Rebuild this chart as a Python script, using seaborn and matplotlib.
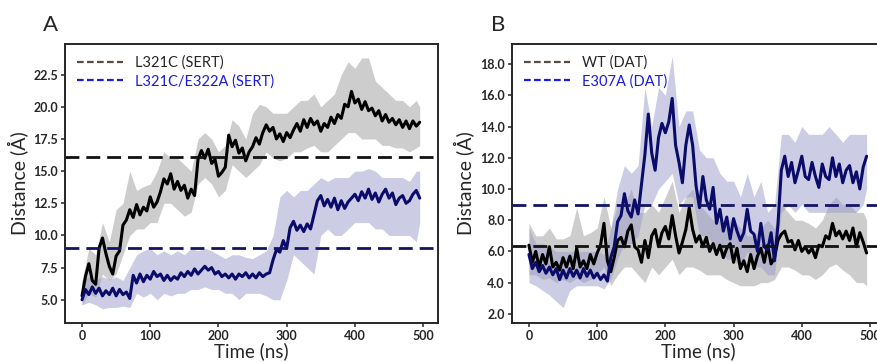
import numpy as np
import matplotlib
matplotlib.use("Agg")
import matplotlib.pyplot as plt
import seaborn as sns
from matplotlib.lines import Line2D

# time grids (ns)
t = np.arange(0, 500, 5)
t_band = np.r_[np.arange(0, 500, 10), 495]

# ---- panel A (SERT) ----
sert_l321c = [5.3, 6.8, 7.8, 6.5, 6.2, 9.0, 9.8, 8.6, 7.6, 7.0,
              8.4, 8.8, 10.8, 11.2, 12.0, 11.4, 12.4, 11.6, 12.2, 11.9,
              13.0, 12.2, 12.6, 13.4, 14.4, 14.0, 14.8, 13.6, 14.2, 13.5,
              13.9, 12.9, 13.6, 13.1, 15.9, 16.6, 16.0, 16.7, 15.6, 15.9,
              14.6, 14.9, 15.3, 17.8, 16.9, 17.4, 16.4, 16.8, 15.8, 16.5,
              16.9, 17.6, 17.1, 18.0, 18.6, 18.1, 18.4, 17.5, 17.9, 17.3,
              18.0, 17.6, 18.2, 18.7, 18.1, 19.0, 18.4, 19.1, 18.6, 18.9,
              18.1, 18.7, 18.4, 19.2, 18.7, 19.4, 19.1, 20.2, 20.0, 21.2,
              20.3, 20.6, 19.8, 20.4, 19.7, 19.9, 19.3, 19.7, 18.9, 19.4,
              18.8, 19.1, 18.6, 19.0, 18.4, 18.9, 18.3, 18.9, 18.5, 18.8]
sert_l321c_lo = [4.6, 5.5, 5.2, 7.0, 6.5, 7.0, 8.5, 10.0, 10.5, 10.5,
                 11.0, 11.0, 12.5, 12.5, 12.0, 11.5, 11.8, 14.0, 14.5, 14.0,
                 13.0, 13.5, 15.5, 15.0, 14.5, 15.0, 15.5, 16.5, 16.0, 15.8,
                 16.0, 16.5, 16.5, 16.8, 17.0, 16.5, 16.5, 17.0, 17.5, 18.0,
                 18.0, 17.5, 17.5, 17.5, 17.0, 17.0, 16.8, 16.8, 16.5, 16.8, 17.0]
sert_l321c_hi = [6.5, 9.0, 8.5, 11.0, 9.5, 12.0, 12.5, 15.0, 13.5, 13.8,
                 14.0, 15.0, 16.5, 16.0, 16.0, 15.5, 15.0, 17.5, 18.0, 17.5,
                 16.5, 17.0, 19.0, 18.5, 17.5, 19.5, 20.2, 20.0, 19.5, 19.5,
                 19.5, 20.0, 20.5, 20.5, 21.0, 20.0, 20.5, 21.0, 22.5, 23.5,
                 23.0, 23.8, 23.8, 22.0, 21.5, 21.0, 20.5, 20.5, 20.0, 20.5, 20.0]

sert_e322a = [5.0, 5.8, 5.4, 6.0, 5.5, 5.9, 5.3, 5.7, 5.4, 5.9,
              5.3, 5.8, 5.4, 5.6, 5.1, 6.9, 6.3, 7.0, 6.4, 6.9,
              6.6, 7.2, 6.8, 7.0, 6.5, 6.9, 6.5, 6.8, 6.6, 7.1,
              6.8, 7.2, 6.9, 7.4, 7.0, 7.3, 7.6, 7.3, 7.5, 7.0,
              7.2, 6.8, 7.0, 6.7, 7.0, 6.6, 7.0, 6.8, 7.1, 6.7,
              7.0, 6.7, 7.1, 6.8, 7.0, 7.1, 8.1, 8.9, 8.7, 9.6,
              9.0, 10.6, 11.1, 10.4, 10.8, 10.3, 10.9, 10.5, 11.6, 12.7,
              13.1, 12.3, 12.8, 12.2, 12.9, 12.0, 12.7, 12.1, 12.6, 12.9,
              13.2, 12.7, 13.4, 12.9, 13.6, 12.8, 13.3, 12.6, 13.2, 13.6,
              12.9, 13.3, 12.4, 12.9, 13.1, 12.5, 12.7, 13.2, 13.5, 12.9]
sert_e322a_lo = [4.6, 4.8, 4.6, 4.3, 4.4, 4.4, 4.5, 4.4, 5.5, 5.2,
                 5.5, 5.0, 5.5, 5.3, 5.5, 5.5, 5.8, 5.8, 6.0, 5.8,
                 5.8, 5.5, 5.5, 5.0, 5.5, 5.5, 5.5, 5.3, 5.0, 5.0,
                 6.5, 8.5, 8.0, 7.5, 7.0, 10.0, 10.5, 10.0, 10.0, 10.5,
                 11.0, 11.0, 11.0, 10.5, 10.5, 10.0, 10.0, 10.0, 10.0, 9.5, 11.0]
sert_e322a_hi = [6.5, 6.8, 6.5, 6.8, 6.6, 6.8, 6.5, 7.5, 8.5, 8.8,
                 9.0, 8.5, 8.8, 8.5, 8.8, 8.5, 9.0, 8.8, 9.0, 8.8,
                 8.5, 8.2, 8.5, 8.5, 8.3, 8.2, 8.5, 8.8, 10.0, 13.0,
                 13.5, 13.0, 13.5, 13.5, 14.0, 14.5, 14.2, 14.5, 14.5, 14.5,
                 15.0, 15.0, 15.2, 15.0, 14.5, 14.5, 14.5, 14.5, 14.2, 15.0, 15.0]
sert_ref = [16.1, 9.05]

# ---- panel B (DAT) ----
dat_wt = [6.4, 5.3, 6.0, 5.0, 5.8, 5.2, 6.3, 5.0, 5.3, 4.8,
          5.6, 5.0, 5.7, 4.9, 6.2, 5.0, 5.4, 4.9, 5.8, 5.2,
          5.9, 6.4, 7.8, 5.4, 4.7, 5.6, 6.7, 6.9, 6.3, 7.3,
          7.7, 6.3, 6.1, 5.3, 6.7, 5.6, 7.0, 7.4, 6.3, 7.2,
          7.6, 6.8, 8.3, 7.0, 5.9, 6.6, 7.4, 8.8, 7.4, 6.6,
          7.0, 6.3, 6.9, 6.0, 6.5, 5.8, 6.4, 5.6, 6.2, 6.5,
          5.3, 6.2, 4.9, 5.4, 4.7, 5.8, 4.9, 5.7, 6.2, 5.3,
          6.4, 5.2, 5.6, 6.7, 7.1, 7.3, 6.6, 6.7, 6.1, 6.7,
          6.0, 6.3, 5.9, 6.2, 5.6, 6.4, 6.3, 7.0, 6.8, 7.8,
          7.0, 7.3, 6.8, 7.3, 6.7, 7.5, 6.3, 7.2, 6.6, 5.9]
dat_wt_lo = [4.5, 4.5, 4.2, 4.3, 4.0, 4.2, 4.0, 4.3, 4.0, 4.2,
             4.5, 5.0, 3.8, 4.5, 5.0, 5.0, 4.5, 4.0, 5.0, 4.5,
             5.0, 5.5, 4.5, 5.0, 5.0, 4.8, 4.5, 4.5, 4.5, 4.2,
             4.0, 3.8, 3.8, 3.8, 4.0, 4.0, 4.2, 5.0, 5.0, 4.8,
             4.5, 4.5, 4.2, 4.5, 5.0, 5.2, 4.8, 4.5, 4.0, 4.0, 3.8]
dat_wt_hi = [7.8, 7.0, 7.0, 7.5, 6.8, 6.8, 7.0, 8.8, 7.0, 7.2,
             7.5, 9.5, 7.5, 9.0, 9.0, 10.0, 8.5, 8.5, 9.0, 8.5,
             9.5, 10.5, 8.5, 9.5, 10.0, 9.0, 8.5, 8.0, 8.0, 8.0,
             8.0, 7.5, 7.0, 7.0, 7.5, 8.0, 7.5, 9.0, 8.5, 8.0,
             8.0, 7.8, 7.5, 8.0, 9.0, 9.5, 9.0, 9.0, 8.5, 8.5, 8.0]

dat_e307a = [5.8, 4.9, 5.3, 4.7, 5.1, 4.6, 5.0, 4.5, 4.9, 4.2,
             4.8, 4.3, 4.9, 4.4, 4.8, 4.3, 4.9, 4.4, 4.8, 4.3,
             4.6, 4.2, 4.5, 4.1, 5.6, 6.3, 7.9, 8.3, 9.7, 8.6,
             8.2, 9.3, 8.4, 10.3, 12.2, 14.8, 12.3, 11.2, 13.3, 14.2,
             13.6, 14.3, 15.8, 12.8, 11.7, 10.4, 12.8, 14.1, 12.8, 10.2,
             8.8, 10.8, 9.3, 8.7, 10.1, 7.8, 8.7, 7.3, 8.2, 6.8,
             8.1, 7.3, 6.7, 7.2, 8.7, 7.3, 7.1, 6.0, 7.8, 6.3,
             6.1, 7.2, 5.4, 7.7, 11.2, 12.1, 10.8, 11.7, 10.4, 11.2,
             12.1, 10.8, 10.6, 11.7, 10.8, 10.1, 11.6, 10.8, 10.6, 12.0,
             10.8, 11.6, 10.4, 11.2, 11.5, 10.4, 11.1, 10.0, 11.4, 12.1]
dat_e307a_lo = [4.0, 3.8, 3.5, 3.2, 2.8, 2.4, 3.5, 3.8, 3.8, 3.8,
                3.8, 3.6, 4.2, 5.5, 6.5, 6.5, 7.0, 9.0, 9.0, 10.0,
                10.5, 11.0, 9.0, 9.5, 9.5, 7.0, 7.0, 6.5, 6.0, 5.5,
                5.5, 5.0, 6.0, 5.0, 5.0, 4.5, 4.5, 8.5, 9.0, 8.5,
                9.0, 8.5, 8.5, 8.5, 8.5, 8.5, 8.5, 8.5, 8.5, 9.0, 10.0]
dat_e307a_hi = [7.5, 6.5, 6.5, 6.3, 6.0, 6.0, 6.0, 6.0, 6.0, 6.0,
                6.0, 5.8, 7.5, 10.0, 11.5, 11.0, 11.5, 16.5, 14.0, 16.5,
                16.0, 18.5, 14.0, 15.0, 15.0, 12.5, 12.0, 12.0, 11.0, 10.5,
                10.5, 9.5, 11.0, 9.5, 10.5, 8.5, 9.0, 13.5, 13.5, 13.0,
                14.0, 13.5, 13.5, 13.5, 14.0, 13.5, 13.0, 13.5, 13.5, 13.5, 13.5]
dat_ref = [6.33, 9.0]

sns.set_style("ticks")
plt.rcParams["font.family"] = ["Lato", "DejaVu Sans"]

fig = plt.figure(figsize=(8.78, 3.62), dpi=100)
axA = fig.add_axes([0.074, 0.108, 0.425, 0.771])
axB = fig.add_axes([0.583, 0.108, 0.425, 0.771])

black = "black"
navy = "#0b0b6b"


def draw(ax, y1, lo1, hi1, y2, lo2, hi2, refs, labels):
    ax.fill_between(t_band, lo1, hi1, color="#bdbdbd", alpha=0.75, lw=0)
    sns.lineplot(x=t, y=y1, ax=ax, color=black, lw=2.2)
    ax.fill_between(t_band, lo2, hi2, color="#9a9dcc", alpha=0.5, lw=0)
    sns.lineplot(x=t, y=y2, ax=ax, color=navy, lw=2.2)
    ax.axhline(refs[0], color="#111111", lw=2, dashes=(5, 2.5))
    ax.axhline(refs[1], color="#141466", lw=2, dashes=(5, 2.5))
    handles = [Line2D([], [], color="#5a4a44", lw=1.6, dashes=(3, 1.5)),
               Line2D([], [], color="#1a1ae0", lw=1.6, dashes=(3, 1.5))]
    leg = ax.legend(handles, labels, loc="upper left", frameon=False,
                    fontsize=10.5, handlelength=3.2, borderaxespad=0.4,
                    labelspacing=0.3)
    leg.get_texts()[1].set_color("#1a1ae0")
    ax.set_xlim(-25, 522)
    ax.set_xticks(range(0, 501, 100))
    ax.set_xlabel("Time (ns)", fontsize=13.5, labelpad=0)
    ax.set_ylabel("Distance (Å)", fontsize=14, labelpad=4)
    for s in ax.spines.values():
        s.set_linewidth(1.4)
    ax.tick_params(length=3, width=1.1, labelsize=9, pad=2)
    for lab in ax.get_xticklabels() + ax.get_yticklabels():
        lab.set_fontweight("bold")


draw(axA, sert_l321c, sert_l321c_lo, sert_l321c_hi,
     sert_e322a, sert_e322a_lo, sert_e322a_hi, sert_ref,
     ["L321C (SERT)", "L321C/E322A (SERT)"])
axA.set_ylim(3.2, 24.9)
axA.set_yticks(np.arange(5, 23, 2.5))
axA.set_yticklabels([f"{v:.1f}" for v in np.arange(5, 23, 2.5)], fontweight="bold")

draw(axB, dat_wt, dat_wt_lo, dat_wt_hi,
     dat_e307a, dat_e307a_lo, dat_e307a_hi, dat_ref,
     ["WT (DAT)", "E307A (DAT)"])
axB.set_ylim(1.42, 19.3)
axB.set_yticks(np.arange(2, 19, 2))
axB.set_yticklabels([f"{v:.1f}" for v in np.arange(2, 19, 2)], fontweight="bold")

fig.text(0.057, 0.93, "A", fontsize=16, ha="center", va="center")
fig.text(0.567, 0.93, "B", fontsize=16, ha="center", va="center")

fig.savefig("out.png", dpi=100)
